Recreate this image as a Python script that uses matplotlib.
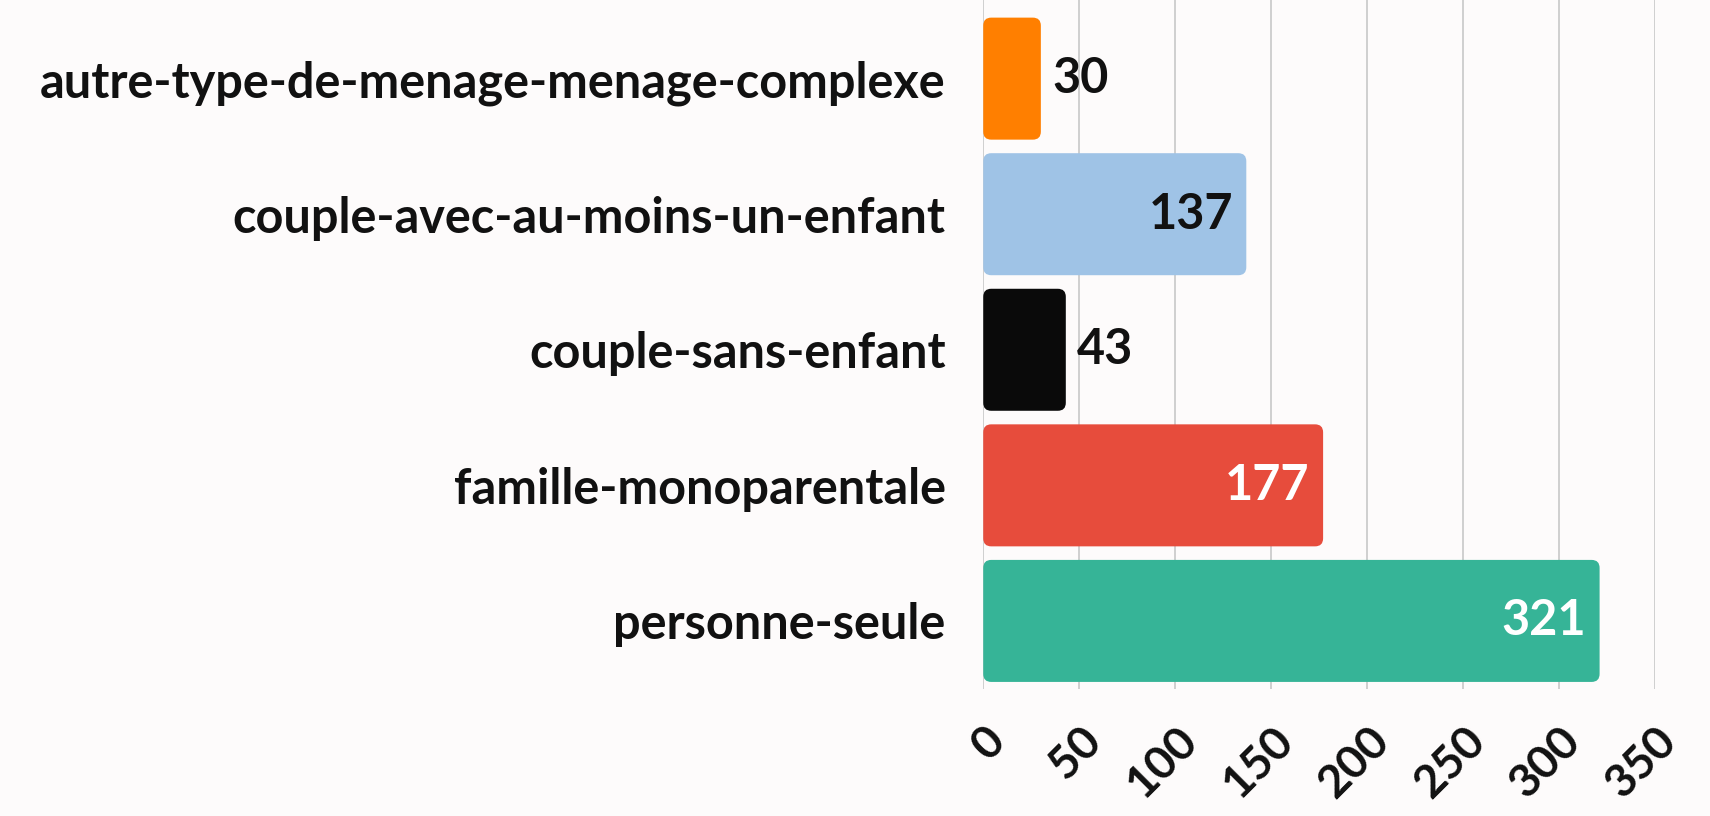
import numpy as np
import matplotlib.pyplot as plt
from matplotlib.patches import FancyBboxPatch

# data
categories = ["autre-type-de-menage-menage-complexe",
              "couple-avec-au-moins-un-enfant",
              "couple-sans-enfant",
              "famille-monoparentale",
              "personne-seule"]
values = [30, 137, 43, 177, 321]
colors = ["#ff7f00", "#9fc3e6", "#0a0a0a", "#e74c3c", "#36b497"]
label_colors = ["#111111", "#111111", "#111111", "#ffffff", "#ffffff"]
x_ticks = [0, 50, 100, 150, 200, 250, 300, 350]

plt.rcParams['font.family'] = ['Lato', 'DejaVu Sans']
plt.rcParams['font.weight'] = 'bold'

bg = "#fdfbfb"
fig = plt.figure(figsize=(17.1, 8.16), dpi=100, facecolor=bg)
ax = fig.add_axes([0.575, 0.156, 0.393, 0.844], facecolor=bg)

y = np.arange(len(categories))
bars = ax.barh(y, values, height=0.9, color=colors)
ax.set_xlim(0, 350)
ax.set_ylim(len(categories) - 0.5, -0.58)

# swap plain rectangles for slightly rounded ones
px_per_x = 0.393 * 1710 / 350
px_per_y = 0.844 * 816 / 5.08
for b, c in zip(bars, colors):
  x0, y0 = b.get_x(), b.get_y()
  w, h = b.get_width(), b.get_height()
  b.set_visible(False)
  r = 8 / px_per_x
  p = FancyBboxPatch((x0, y0), w, h,
                     boxstyle=f"round,pad=0,rounding_size={r}",
                     mutation_aspect=px_per_x / px_per_y,
                     facecolor=c, edgecolor="none", zorder=3)
  ax.add_patch(p)

# value labels: outside for short bars, inside for long ones
for i, v in enumerate(values):
  if v < 60:
    ax.text(v + 6, i, str(v), ha="left", va="center", fontsize=35,
            fontweight="bold", color=label_colors[i], zorder=4)
  else:
    ax.text(v - 7, i, str(v), ha="right", va="center", fontsize=35,
            fontweight="bold", color=label_colors[i], zorder=4)

ax.set_yticks(y)
ax.set_yticklabels(categories, fontsize=35, fontweight="bold", color="#111111")
ax.set_xticks(x_ticks)
ax.set_xticklabels([str(t) for t in x_ticks], fontsize=33, fontweight="bold",
                   rotation=45, ha="right", va="top", rotation_mode="anchor",
                   color="#111111")
ax.tick_params(axis="y", length=0, pad=27)
ax.tick_params(axis="x", length=0, pad=22)

ax.grid(axis="x", color="#c8c8c8", linewidth=1.2, zorder=0)
ax.set_axisbelow(True)
for s in ax.spines.values():
  s.set_visible(False)

fig.savefig("out.png", dpi=100, facecolor=bg)
